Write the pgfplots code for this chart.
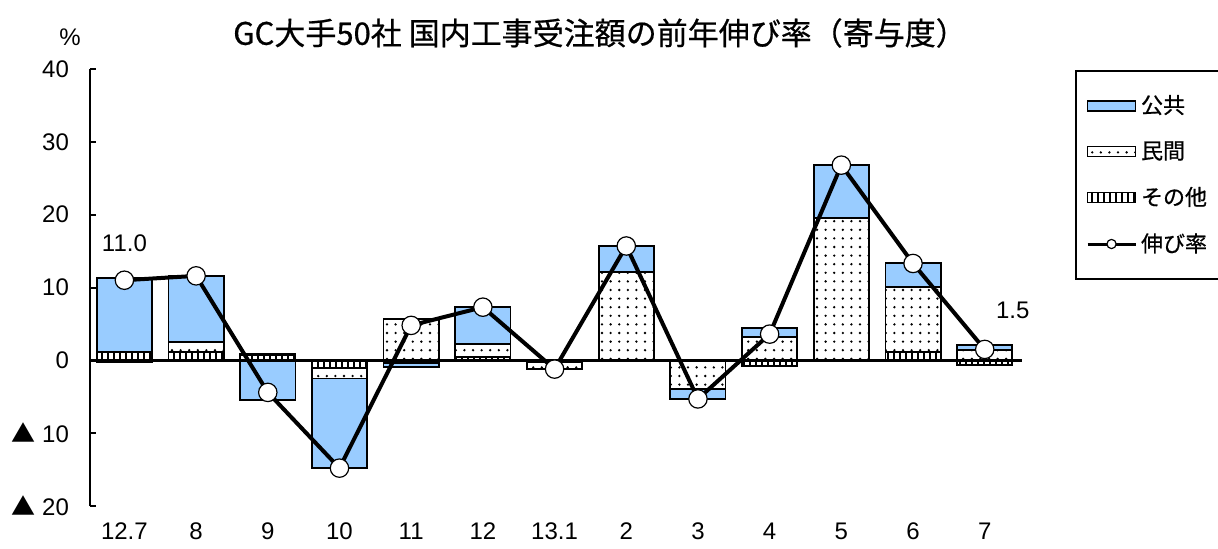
\documentclass[border=0pt]{standalone}
\usepackage{fontspec}
\setmainfont{Liberation Sans}
\newfontfamily\jp{Noto Sans CJK JP}
\newfontfamily\jpb[FakeBold=0.6]{Noto Sans CJK JP}
\usepackage{pgfplots}
\pgfplotsset{compat=1.18}
\usepackage{pgfplotstable}
\usetikzlibrary{patterns.meta}
\definecolor{pub}{HTML}{99CCFF}

% positive and negative parts are stacked apart, as the spreadsheet does
\pgfplotstableread{
x oth pri pub
0 1.2 0 10.1
1 1.2 1.3 9.1
2 0.7 0.2 0
3 0 0 0
4 0 5.7 0
5 0.5 1.7 5.1
6 0 0 0
7 0 12.1 3.6
8 0 0 0
9 0 3.2 1.2
10 0.1 19.4 7.3
11 1.1 9.0 3.3
12 0 1.4 0.7
}\postab
\pgfplotstableread{
x oth pri pub
0 0 -0.3 0
1 0 0 0
2 0 0 -5.4
3 -1.1 -1.4 -12.3
4 -0.4 0 -0.5
5 0 0 0
6 -0.3 -0.9 0
7 0 0 0
8 -0.1 -3.8 -1.4
9 -0.8 0 0
10 0 0 0
11 0 0 0
12 -0.6 0 0
}\negtab
\pgfplotstableread{
x r
0 11.0
1 11.6
2 -4.4
3 -14.8
4 4.8
5 7.3
6 -1.2
7 15.7
8 -5.3
9 3.6
10 26.8
11 13.3
12 1.5
}\ratetab

\tikzset{
  pubbar/.style={fill=pub, draw=black, line width=0.9pt},
  pribar/.style={fill=white, draw=black, line width=0.9pt,
    postaction={pattern={Dots[distance=4.3pt, radius=0.65pt]}}},
  othbar/.style={fill=white, draw=black, line width=0.9pt,
    postaction={pattern={Lines[angle=90, distance=3pt, line width=0.8pt]}}},
}
\pgfplotsset{
  base/.style={
    scale only axis, width=466pt, height=218.5pt,
    at={(45pt,21pt)}, anchor=south west,
    xmin=-0.48, xmax=12.52, ymin=-20, ymax=40,
  },
}

\begin{document}
\begin{tikzpicture}
\useasboundingbox (0,0) rectangle (609pt,274pt);

% negative parts
\begin{axis}[base, hide axis, ybar stacked, bar width=0.77]
  \addplot[othbar] table[x=x, y=oth] {\negtab};
  \addplot[pribar] table[x=x, y=pri] {\negtab};
  \addplot[pubbar] table[x=x, y=pub] {\negtab};
\end{axis}

% positive parts, axis and zero line
\begin{axis}[base, ybar stacked, bar width=0.77,
  axis x line*=bottom, axis y line*=left,
  x axis line style={draw=none}, xtick style={draw=none},
  y axis line style={line width=1pt},
  ytick style={line width=1pt, black},
  tick align=inside, major tick length=3pt,
  xtick={0,...,12},
  xticklabels={12.7,8,9,10,11,12,13.1,2,3,4,5,6,7},
  ytick={-20,-10,...,40},
  yticklabels={{\jp ▲} 20,{\jp ▲} 10,0,10,20,30,40},
  tick label style={font=\fontsize{12}{14}\selectfont},
  xticklabel style={yshift=-5pt},
  yticklabel style={xshift=-7pt},
  /pgf/number format/assume math mode=true,
]
  \addplot[othbar] table[x=x, y=oth] {\postab};
  \addplot[pribar] table[x=x, y=pri] {\postab};
  \addplot[pubbar] table[x=x, y=pub] {\postab};
  \draw[line width=1.5pt] (axis cs:-0.48,0) -- (axis cs:12.52,0);
\end{axis}

% growth rate line and legend
\begin{axis}[base, hide axis,
  legend style={at={(1.0569,0.9977)}, anchor=north west, draw=black,
    line width=1pt, font=\jpb\fontsize{11}{13}\selectfont,
    row sep=8.5pt, inner xsep=5pt, inner ysep=10pt},
  legend cell align=left,
]
  \addplot[black, line width=2pt, mark=*, mark size=4.6pt,
    mark options={fill=white, draw=black, line width=0.6pt}, forget plot]
    table[x=x, y=r] {\ratetab};
  \addplot[draw=none, forget plot, nodes near coords, point meta=explicit symbolic,
    nodes near coords style={anchor=center, yshift=18.5pt, font=\fontsize{12}{14}\selectfont}]
    coordinates {(0,11.0)[11.0]};
  \addplot[draw=none, forget plot, nodes near coords, point meta=explicit symbolic,
    nodes near coords style={anchor=center, xshift=14pt, yshift=19.5pt, font=\fontsize{12}{14}\selectfont}]
    coordinates {(12,1.5)[1.5]};
  \addlegendimage{legend image code/.code={\draw[pubbar] (0pt,-2.5pt) rectangle (24pt,2.5pt);}}
  \addlegendentry{公共}
  \addlegendimage{legend image code/.code={\draw[pribar] (0pt,-2.5pt) rectangle (24pt,2.5pt);}}
  \addlegendentry{民間}
  \addlegendimage{legend image code/.code={\draw[othbar] (0pt,-2.5pt) rectangle (24pt,2.5pt);}}
  \addlegendentry{その他}
  \addlegendimage{legend image code/.code={
    \draw[black, line width=1.5pt] (0pt,0pt) -- (24pt,0pt);
    \draw[black, line width=0.6pt, fill=white] (12pt,0pt) circle (2.3pt);}}
  \addlegendentry{伸び率}
\end{axis}

\node[font=\jpb\fontsize{15.5}{17}\selectfont] at (300pt,257.5pt) {GC大手50社 国内工事受注額の前年伸び率（寄与度）};
\node[font=\fontsize{12}{14}\selectfont] at (35pt,255.5pt) {\%};
\end{tikzpicture}
\end{document}
